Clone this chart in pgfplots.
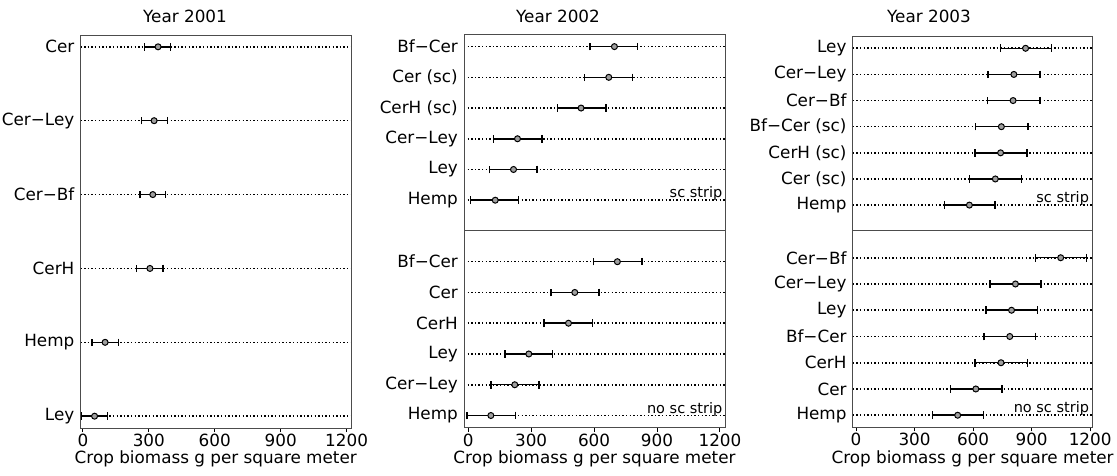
\documentclass[border=0pt]{standalone}
\usepackage{fontspec}
\setmainfont{DejaVu Sans}
\usepackage{pgfplots}
\usepackage{pgfplotstable}
\pgfplotsset{compat=1.18}

% columns: y position, point, lower, upper
\pgfplotstableread{
y m lo hi
6 342 279 399
5 324 267 385
4 318 259 376
3 305 245 365
2 101 42 162
1 53 -6 112
}\tA
\pgfplotstableread{
y m lo hi
6 697 580 807
5 670 554 784
4 538 427 656
3 235 122 351
2 216 102 327
1 129 10 240
}\tBtop
\pgfplotstableread{
y m lo hi
6 711 597 829
5 508 395 624
4 478 362 592
3 289 175 403
2 222 108 337
1 108 -5 226
}\tBbot
\pgfplotstableread{
y m lo hi
7 869 740 1002
6 809 676 942
5 805 673 942
4 745 612 881
3 741 609 876
2 714 581 847
1 581 452 712
}\tCtop
\pgfplotstableread{
y m lo hi
7 1049 919 1180
6 817 687 948
5 797 666 930
4 788 655 921
3 743 610 878
2 614 485 749
1 521 392 652
}\tCbot

\pgfplotsset{
  dotax/.style={
    scale only axis,
    anchor=south west,
    axis line style={draw=black!70, line width=1pt},
    ymajorgrids,
    major grid style={black, line width=1.6pt, dash pattern=on 1.4pt off 2.2pt},
    ytick style={draw=none},
    ytick pos=left,
    tick align=outside,
    major tick length=4pt,
    xtick style={black, line width=1pt},
    /pgf/number format/assume math mode=true,
    /pgf/number format/1000 sep={},
    yticklabel style={inner sep=2pt},
  },
  bottomax/.style={
    xtick={0,300,600,900,1200},
    xtick pos=left,
    xticklabel style={inner sep=2pt},
    xlabel={Crop biomass g per square meter},
    xlabel style={inner sep=2pt},
  },
  topax/.style={xtick=\empty},
  dotplot/.style={
    only marks, mark=*, mark size=3pt,
    mark options={fill=gray!75, draw=black, line width=1pt},
    error bars/.cd, x dir=both, x explicit,
    error mark=|,
    error bar style={black, line width=1.5pt, solid},
    error mark options={black, line width=1.4pt, mark size=3.8pt, solid},
  },
}
\newcommand{\dotrow}[1]{\addplot[dotplot] table[x=m, y=y,
  x error plus expr=\thisrow{hi}-\thisrow{m},
  x error minus expr=\thisrow{m}-\thisrow{lo}] {#1};}

\begin{document}
\fontsize{16.8}{20}\selectfont
\begin{tikzpicture}
\useasboundingbox (0,0) rectangle (1117pt,-475pt);

% Panel 1
\begin{axis}[dotax, bottomax, at={(80.5pt,-428pt)}, width=270.5pt, height=393pt,
  xmin=-11, xmax=1220, ymin=0.84, ymax=6.16,
  ytick={1,...,6}, yticklabels={Ley, Hemp, CerH, Cer−Bf, Cer−Ley, Cer}]
\dotrow{\tA}
\end{axis}

% Panel 2 top
\begin{axis}[dotax, topax, at={(464pt,-230pt)}, width=261pt, height=196pt,
  xmin=-20, xmax=1224, ymin=0.03, ymax=6.41,
  ytick={1,...,6}, yticklabels={Hemp, Ley, Cer−Ley, CerH (sc), Cer (sc), Bf−Cer}]
\dotrow{\tBtop}
\node[anchor=base east, inner sep=0pt, font=\fontsize{14.5}{16}\selectfont] at (axis cs:1212,1.08) {sc strip};
\end{axis}
% Panel 2 bottom
\begin{axis}[dotax, bottomax, at={(464pt,-427.5pt)}, width=261pt, height=197.5pt,
  xmin=-20, xmax=1224, ymin=0.61, ymax=7.03,
  ytick={1,...,6}, yticklabels={Hemp, Cer−Ley, Ley, CerH, Cer, Bf−Cer}]
\dotrow{\tBbot}
\node[anchor=base east, inner sep=0pt, font=\fontsize{14.5}{16}\selectfont] at (axis cs:1212,1.08) {no sc strip};
\end{axis}

% Panel 3 top
\begin{axis}[dotax, topax, at={(852.7pt,-230.7pt)}, width=239.8pt, height=194.7pt,
  xmin=-17, xmax=1212, ymin=0.02, ymax=7.47,
  ytick={1,...,7}, yticklabels={Hemp, Cer (sc), CerH (sc), Bf−Cer (sc), Cer−Bf, Cer−Ley, Ley}]
\dotrow{\tCtop}
\node[anchor=base east, inner sep=0pt, font=\fontsize{14.5}{16}\selectfont] at (axis cs:1195,1.1) {sc strip};
\end{axis}
% Panel 3 bottom
\begin{axis}[dotax, bottomax, at={(852.7pt,-427.3pt)}, width=239.8pt, height=196.6pt,
  xmin=-17, xmax=1212, ymin=0.54, ymax=8.03,
  ytick={1,...,7}, yticklabels={Hemp, Cer, CerH, Bf−Cer, Ley, Cer−Ley, Cer−Bf}]
\dotrow{\tCbot}
\node[anchor=base east, inner sep=0pt, font=\fontsize{14.5}{16}\selectfont] at (axis cs:1195,1.1) {no sc strip};
\end{axis}

\node at (185pt,-16pt) {Year 2001};
\node at (558pt,-16pt) {Year 2002};
\node at (929pt,-16pt) {Year 2003};
\end{tikzpicture}
\end{document}
